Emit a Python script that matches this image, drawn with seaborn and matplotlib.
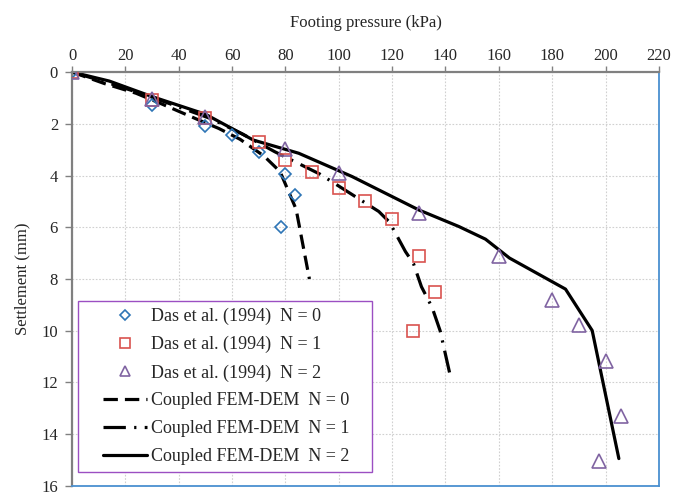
import matplotlib
matplotlib.use("Agg")
import matplotlib.pyplot as plt
from matplotlib.lines import Line2D
from matplotlib.legend_handler import HandlerLine2D
import seaborn as sns
import pandas as pd

# Laboratory measurements, Das et al. (1994): footing pressure (kPa) vs settlement (mm)
das0_p = [0, 30, 50, 60, 70, 80, 83.5, 78.5]
das0_s = [0, 1.27, 2.08, 2.43, 3.1, 3.94, 4.77, 6.0]
das1_p = [0, 30, 50, 70, 80, 90, 100, 110, 120, 130, 136, 128]
das1_s = [0, 1.07, 1.76, 2.69, 3.4, 3.85, 4.47, 5.0, 5.69, 7.1, 8.52, 10.0]
das2_p = [0, 30, 50, 80, 100, 130, 160, 180, 190, 200, 205.7, 197.4]
das2_s = [0, 1.05, 1.72, 2.99, 3.89, 5.43, 7.13, 8.8, 9.77, 11.18, 13.28, 15.02]

# Coupled FEM-DEM predictions
fem0_p = [0, 12, 24, 34, 49, 55, 63, 72, 78, 84, 89]
fem0_s = [0, 0.44, 0.82, 1.25, 1.92, 2.18, 2.6, 3.25, 3.85, 5.3, 8.0]
fem1_p = [0, 13, 28, 40, 52, 64, 76, 93, 115, 119, 125, 128, 131, 135, 138, 142]
fem1_s = [0, 0.4, 0.9, 1.35, 1.8, 2.4, 3.08, 3.95, 5.39, 5.8, 6.94, 7.4, 8.3, 9.1, 10.0, 11.83]
fem2_p = [0, 14, 30, 50, 68, 85, 105, 130, 145, 155, 164, 185, 195, 205]
fem2_s = [0, 0.35, 0.95, 1.63, 2.63, 3.14, 4.04, 5.33, 5.97, 6.46, 7.19, 8.39, 9.99, 14.94]

x_ticks = list(range(0, 221, 20))
y_ticks = list(range(0, 17, 2))

das_labels = ["Das et al. (1994)  N = 0", "Das et al. (1994)  N = 1", "Das et al. (1994)  N = 2"]
fem_labels = ["Coupled FEM-DEM  N = 0", "Coupled FEM-DEM  N = 1", "Coupled FEM-DEM  N = 2"]

sns.set_theme(style="white")
plt.rcParams["font.family"] = ["Liberation Serif", "DejaVu Serif"]

das = pd.concat([
    pd.DataFrame({"p": das0_p, "s": das0_s, "series": das_labels[0]}),
    pd.DataFrame({"p": das1_p, "s": das1_s, "series": das_labels[1]}),
    pd.DataFrame({"p": das2_p, "s": das2_s, "series": das_labels[2]}),
])
fem = pd.concat([
    pd.DataFrame({"p": fem0_p, "s": fem0_s, "series": fem_labels[0]}),
    pd.DataFrame({"p": fem1_p, "s": fem1_s, "series": fem_labels[1]}),
    pd.DataFrame({"p": fem2_p, "s": fem2_s, "series": fem_labels[2]}),
])

colors = {das_labels[0]: "#2e75b6", das_labels[1]: "#d9534f", das_labels[2]: "#8064a2"}
markers = {das_labels[0]: "D", das_labels[1]: "s", das_labels[2]: "^"}
msizes = {das_labels[0]: 6.0, das_labels[1]: 8.5, das_labels[2]: 9.5}
dash_styles = {fem_labels[0]: (4.5, 2.2), fem_labels[1]: (7.0, 2.6, 0.7, 2.6), fem_labels[2]: ""}

fig = plt.figure(figsize=(6.73, 4.95), dpi=100)
ax = fig.add_axes([0.107, 0.0182, 0.872, 0.8363])

# grid
ax.set_axisbelow(True)
ax.grid(True, color="#d0d0d0", linestyle=(0, (1.5, 1.5)), linewidth=0.8)

sns.lineplot(data=fem, x="p", y="s", style="series", dashes=dash_styles,
             color="black", linewidth=2.3, sort=False, estimator=None,
             legend=False, ax=ax)

for lab in das_labels:
    sub = das[das["series"] == lab]
    ax.plot(sub["p"], sub["s"], linestyle="none", marker=markers[lab],
            markersize=msizes[lab], markerfacecolor="none",
            markeredgecolor=colors[lab], markeredgewidth=1.2, zorder=4)

ax.set_xlim(0, 220)
ax.set_ylim(16, 0)
ax.set_xticks(x_ticks)
ax.set_yticks(y_ticks)
ax.xaxis.tick_top()
ax.xaxis.set_label_position("top")
ax.tick_params(axis="x", which="both", top=True, bottom=False, direction="out",
               length=4, width=1.0, color="#808080", labelsize=12, pad=2)
ax.tick_params(axis="y", which="both", left=True, direction="out",
               length=5, width=1.0, color="#808080", labelsize=12, pad=5)
ax.set_xlabel("Footing pressure (kPa)", fontsize=12, labelpad=15)
ax.set_ylabel("Settlement (mm)", fontsize=12, labelpad=8)

for side in ["left", "top"]:
    ax.spines[side].set_color("#808080")
    ax.spines[side].set_linewidth(1.6)
for side in ["right", "bottom"]:
    ax.spines[side].set_color("#4a90d0")
    ax.spines[side].set_linewidth(1.3)

handles = []
for lab in das_labels:
    handles.append(Line2D([], [], linestyle="none", marker=markers[lab],
                          markersize=msizes[lab] * 0.8, markerfacecolor="none",
                          markeredgecolor=colors[lab], markeredgewidth=1.2))
for lab in fem_labels:
    h = Line2D([], [], color="black", linewidth=2.3)
    if dash_styles[lab]:
        h.set_dashes(dash_styles[lab])
    handles.append(h)

leg_w = (372 - 78) / 587
leg = ax.legend(handles, das_labels + fem_labels, loc="lower left",
                bbox_to_anchor=(0.0107, 0.033, leg_w, 0.4), mode="expand",
                borderaxespad=0, fontsize=13, handlelength=3.4,
                handletextpad=0.22, labelspacing=0.6, borderpad=0.4,
                fancybox=False, framealpha=1, numpoints=1,
                handler_map={Line2D: HandlerLine2D(xpad=0.95)})
leg.get_frame().set_edgecolor("#9b4fc2")
leg.get_frame().set_linewidth(1.0)

fig.savefig("out.png", dpi=100)
